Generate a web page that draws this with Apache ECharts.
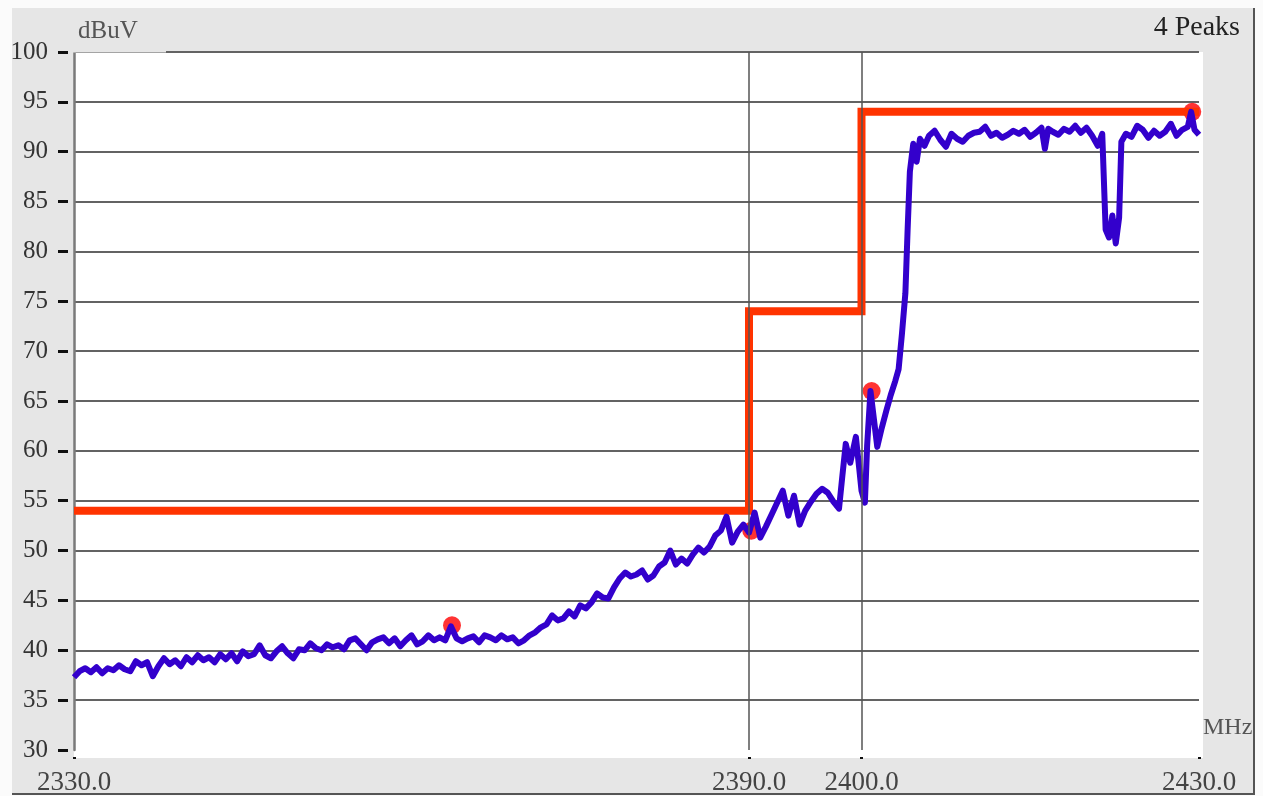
<!DOCTYPE html>
<html>
<head>
<meta charset="utf-8">
<title>Spectrum</title>
<script src="https://cdn.jsdelivr.net/npm/echarts@6/dist/echarts.min.js"></script>
<style>
    body { margin: 0; background: #fbfbfb; }
    #main { width: 1263px; height: 796px; }
</style>
</head>
<body>
<div id="main"></div>
<script>
// sweep trace (MHz / dBuV)
var freqs = [
    2330.0, 2330.5, 2331.0, 2331.5, 2332.0, 2332.5, 2333.0, 2333.5, 2334.0, 2334.5,
    2335.0, 2335.5, 2336.0, 2336.5, 2337.0, 2337.5, 2338.0, 2338.5, 2339.0, 2339.5,
    2340.0, 2340.5, 2341.0, 2341.5, 2342.0, 2342.5, 2343.0, 2343.5, 2344.0, 2344.5,
    2345.0, 2345.5, 2346.0, 2346.5, 2347.0, 2347.5, 2348.0, 2348.5, 2349.0, 2349.5,
    2350.0, 2350.5, 2351.0, 2351.5, 2352.0, 2352.5, 2353.0, 2353.5, 2354.0, 2354.5,
    2355.0, 2355.5, 2356.0, 2356.5, 2357.0, 2357.5, 2358.0, 2358.5, 2359.0, 2359.5,
    2360.0, 2360.5, 2361.0, 2361.5, 2362.0, 2362.5, 2363.0, 2363.5, 2364.0, 2364.5,
    2365.0, 2365.5, 2366.0, 2366.5, 2367.0, 2367.5, 2368.0, 2368.5, 2369.0, 2369.5,
    2370.0, 2370.5, 2371.0, 2371.5, 2372.0, 2372.5, 2373.0, 2373.5, 2374.0, 2374.5,
    2375.0, 2375.5, 2376.0, 2376.5, 2377.0, 2377.5, 2378.0, 2378.5, 2379.0, 2379.5,
    2380.0, 2380.5, 2381.0, 2381.5, 2382.0, 2382.5, 2383.0, 2383.5, 2384.0, 2384.5,
    2385.0, 2385.5, 2386.0, 2386.5, 2387.0, 2387.5, 2388.0, 2388.5, 2389.0, 2389.5,
    2390.0, 2390.5, 2391.0, 2391.5, 2392.0, 2392.5, 2393.0, 2393.5, 2394.0, 2394.5,
    2395.0, 2395.5, 2396.0, 2396.5, 2397.0, 2397.5, 2398.0, 2398.3, 2398.6, 2399.0,
    2399.5, 2399.8, 2400.0, 2400.3, 2400.5, 2400.8, 2401.1, 2401.4, 2401.8, 2402.2,
    2402.6, 2403.0, 2403.3, 2403.6, 2403.9, 2404.1, 2404.3, 2404.6, 2404.9, 2405.2,
    2405.6, 2406.0, 2406.5, 2407.0, 2407.5, 2408.0, 2408.5, 2409.0, 2409.5, 2410.0,
    2410.5, 2411.0, 2411.5, 2412.0, 2412.5, 2413.0, 2413.5, 2414.0, 2414.5, 2415.0,
    2415.5, 2416.0, 2416.3, 2416.6, 2417.0, 2417.5, 2418.0, 2418.5, 2419.0, 2419.5,
    2420.0, 2420.5, 2421.0, 2421.4, 2421.7, 2422.0, 2422.3, 2422.6, 2422.9, 2423.1,
    2423.5, 2424.0, 2424.5, 2425.0, 2425.5, 2426.0, 2426.5, 2427.0, 2427.5, 2428.0,
    2428.5, 2429.0, 2429.3, 2429.6, 2430.0
];
var levels = [
    37.3, 37.9, 38.2, 37.8, 38.3, 37.7, 38.2, 38.0, 38.5, 38.1,
    37.9, 38.9, 38.5, 38.8, 37.4, 38.4, 39.2, 38.6, 39.0, 38.4,
    39.3, 38.8, 39.5, 39.0, 39.3, 38.8, 39.6, 39.1, 39.7, 38.9,
    39.9, 39.4, 39.6, 40.5, 39.5, 39.2, 39.9, 40.4, 39.7, 39.2,
    40.1, 40.0, 40.7, 40.2, 40.0, 40.6, 40.3, 40.5, 40.1, 41.0,
    41.2, 40.6, 40.0, 40.8, 41.1, 41.3, 40.7, 41.2, 40.4, 41.0,
    41.5, 40.6, 40.9, 41.5, 41.0, 41.3, 41.0, 42.4, 41.2, 40.9,
    41.2, 41.4, 40.8, 41.5, 41.3, 41.0, 41.5, 41.1, 41.3, 40.7,
    41.0, 41.5, 41.8, 42.3, 42.6, 43.5, 43.0, 43.2, 43.9, 43.4,
    44.5, 44.2, 44.8, 45.7, 45.3, 45.2, 46.3, 47.2, 47.8, 47.4,
    47.6, 48.0, 47.1, 47.5, 48.4, 48.8, 50.0, 48.6, 49.2, 48.7,
    49.6, 50.3, 49.8, 50.4, 51.5, 52.0, 53.4, 50.8, 51.9, 52.6,
    51.8, 53.8, 51.3, 52.4, 53.6, 54.8, 56.0, 53.5, 55.5, 52.6,
    54.0, 54.9, 55.7, 56.2, 55.8, 54.9, 54.2, 57.5, 60.7, 58.8,
    61.4, 58.2, 56.0, 54.8, 60.5, 66.0, 63.2, 60.4, 62.3, 64.0,
    65.6, 67.0, 68.2, 71.8, 75.8, 82.2, 88.0, 90.8, 89.0, 91.3,
    90.6, 91.6, 92.1, 91.2, 90.5, 91.8, 91.3, 91.0, 91.6, 91.9,
    92.0, 92.5, 91.6, 91.9, 91.4, 91.7, 92.1, 91.8, 92.2, 91.5,
    91.9, 92.4, 90.3, 92.3, 92.0, 91.7, 92.3, 92.0, 92.6, 91.9,
    92.4, 91.6, 90.6, 91.8, 82.2, 81.4, 83.6, 80.8, 83.4, 91.0,
    91.8, 91.5, 92.6, 92.2, 91.4, 92.1, 91.6, 92.0, 92.8, 91.6,
    92.2, 92.5, 94.0, 92.2, 91.7
];

// limit line
var limitFreqs = [2330, 2390, 2390, 2400, 2400, 2430];
var limitLevels = [54, 54, 74, 74, 94, 94];

// marked peaks
var peakFreqs = [2363.6, 2390.2, 2400.9, 2429.4];
var peakLevels = [42.5, 52.0, 66.0, 94.0];

var xTicks = [2330, 2390, 2400, 2430];
var yMin = 30, yMax = 100, yStep = 5;

var zip = function (a, b) {
    var out = [];
    for (var i = 0; i < a.length; i++) out.push([a[i], b[i]]);
    return out;
};

var serif = '"Liberation Serif", "DejaVu Serif", serif';
var myChart = echarts.init(document.getElementById('main'));

var option = {
    animation: false,
    backgroundColor: '#fbfbfb',
    grid: { left: 74, right: 64, top: 52, bottom: 44, show: true, backgroundColor: '#ffffff', borderWidth: 0 },
    graphic: [
        { type: 'rect', z: -10, shape: { x: 12, y: 8, width: 1242, height: 786 }, style: { fill: '#e6e6e6' } },
        { type: 'rect', z: -9, shape: { x: 74, y: 52, width: 1129, height: 706 }, style: { fill: '#ffffff' } },
        { type: 'line', z: -8, shape: { x1: 1254, y1: 8, x2: 1254, y2: 795 }, style: { stroke: '#555', lineWidth: 2 } },
        { type: 'line', z: -8, shape: { x1: 12, y1: 794, x2: 1255, y2: 794 }, style: { stroke: '#555', lineWidth: 2 } },
        // hides the left end of the top grid line behind the unit label
        { type: 'rect', z: 50, shape: { x: 71, y: 48, width: 95, height: 4.5 }, style: { fill: '#e6e6e6' } },
        { type: 'text', z: 50, x: 78, y: 31, style: { text: 'dBuV', font: '25px ' + serif, fill: '#555', align: 'left', verticalAlign: 'middle', textAlign: 'left', textVerticalAlign: 'middle' } },
        { type: 'text', z: 50, x: 1240, y: 28, style: { text: '4 Peaks', font: '28px ' + serif, fill: '#222', align: 'right', verticalAlign: 'middle', textAlign: 'right', textVerticalAlign: 'middle' } },
        { type: 'text', z: 50, x: 1203, y: 728, style: { text: 'MHz', font: '24px ' + serif, fill: '#555', align: 'left', verticalAlign: 'middle', textAlign: 'left', textVerticalAlign: 'middle' } }
    ],
    xAxis: {
        type: 'value',
        min: 2330,
        max: 2430,
        interval: 10,
        offset: 7,
        axisLine: { show: false },
        axisTick: { show: true, length: 2, lineStyle: { color: '#111', width: 3 }, customValues: xTicks },
        axisLabel: {
            customValues: xTicks,
            margin: 12,
            color: '#444',
            fontFamily: serif,
            fontSize: 27,
            formatter: function (v) { return v.toFixed(1); }
        },
        splitLine: { show: false }
    },
    yAxis: [{
        type: 'value',
        min: yMin,
        max: yMax,
        interval: yStep,
        offset: 6,
        axisLine: { show: false },
        axisTick: { show: true, length: 10, lineStyle: { color: '#111', width: 3 } },
        axisLabel: { margin: 20, color: '#333', fontFamily: serif, fontSize: 25 },
        splitLine: { show: true, showMinLine: false, lineStyle: { color: '#636363', width: 2 } }
    }, {
        type: 'value',
        position: 'left',
        min: yMin,
        max: yMax,
        interval: yStep,
        offset: 0,
        axisLine: { show: true, lineStyle: { color: '#7a7a7a', width: 2.5 } },
        axisTick: { show: false },
        axisLabel: { show: false },
        splitLine: { show: false }
    }],
    series: [
        {
            name: 'peaks',
            type: 'scatter',
            z: 2,
            symbol: 'circle',
            symbolSize: 18,
            itemStyle: { color: '#ff0000' },
            data: zip(peakFreqs, peakLevels),
            markLine: {
                silent: true,
                symbol: 'none',
                label: { show: false },
                lineStyle: { color: '#555', width: 1.5, type: 'solid' },
                data: [{ xAxis: 2390 }, { xAxis: 2400 }]
            }
        },
        {
            name: 'limit',
            type: 'line',
            z: 3,
            showSymbol: false,
            lineStyle: { color: '#ff3300', width: 8, join: 'miter', cap: 'butt' },
            data: zip(limitFreqs, limitLevels)
        },
        {
            name: 'trace',
            type: 'line',
            z: 4,
            showSymbol: false,
            lineStyle: { color: '#3300cc', width: 6, join: 'round' },
            data: zip(freqs, levels)
        }
    ]
};

if (option && typeof option === "object") {
    myChart.setOption(option, true);
}
</script>
</body>
</html>
